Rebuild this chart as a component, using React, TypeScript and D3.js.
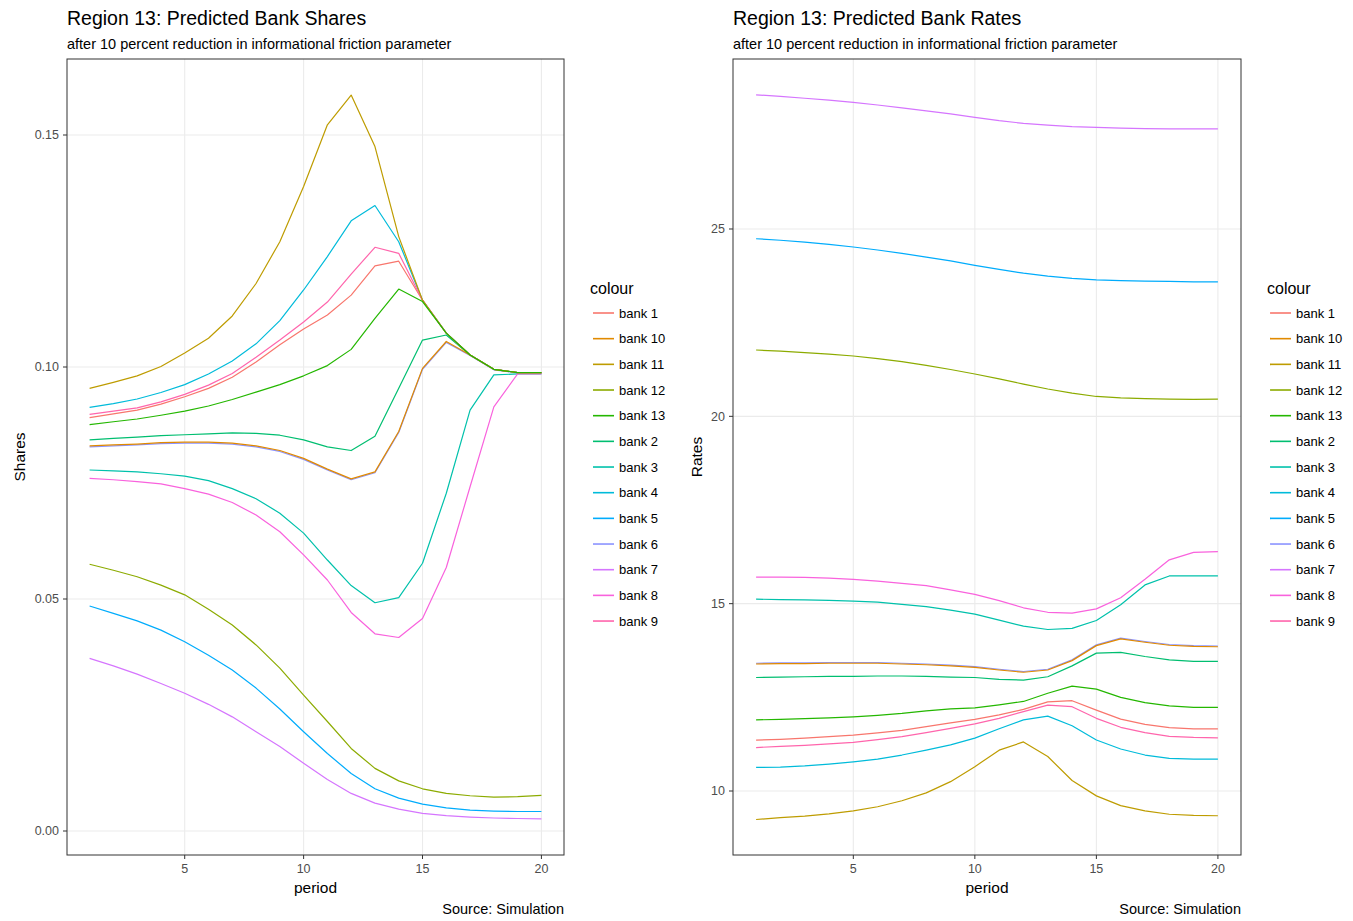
import React from "react";
import * as d3 from "d3";

const FONT = "'Liberation Sans', Arial, Helvetica, sans-serif";

const periods = d3.range(1, 21);
const bankNames = ["bank 1", "bank 10", "bank 11", "bank 12", "bank 13", "bank 2", "bank 3", "bank 4", "bank 5", "bank 6", "bank 7", "bank 8", "bank 9"];
const bankColors = ["#F8766D", "#E18A00", "#BE9C00", "#8CAB00", "#24B700", "#00BE70", "#00C1AB", "#00BBDA", "#00ACFC", "#8B93FF", "#D575FE", "#F962DD", "#FF65AC"];
// drawing order (layers added bank 1..13)
const drawOrder = ["bank 1", "bank 2", "bank 3", "bank 4", "bank 5", "bank 6", "bank 7", "bank 8", "bank 9", "bank 10", "bank 11", "bank 12", "bank 13"];

// ---- Shares ----
const shares1 = [0.0891, 0.0899, 0.0907, 0.0920, 0.0936, 0.0954, 0.0978, 0.1011, 0.1048, 0.1082, 0.1112, 0.1155, 0.1218, 0.1228, 0.1144, 0.1073, 0.1026, 0.0995, 0.0988, 0.0988];
const shares2 = [0.0843, 0.0846, 0.0849, 0.0852, 0.0854, 0.0856, 0.0858, 0.0857, 0.0853, 0.0843, 0.0828, 0.0820, 0.0851, 0.0954, 0.1058, 0.1069, 0.1026, 0.0995, 0.0988, 0.0988];
const shares3 = [0.0778, 0.0776, 0.0774, 0.0770, 0.0765, 0.0755, 0.0738, 0.0716, 0.0685, 0.0642, 0.0584, 0.0529, 0.0492, 0.0503, 0.0577, 0.0728, 0.0907, 0.0983, 0.0985, 0.0985];
const shares4 = [0.0913, 0.0921, 0.0931, 0.0945, 0.0962, 0.0985, 0.1013, 0.1050, 0.1100, 0.1166, 0.1238, 0.1315, 0.1348, 0.1270, 0.1144, 0.1073, 0.1026, 0.0995, 0.0988, 0.0988];
const shares5 = [0.0485, 0.0469, 0.0453, 0.0433, 0.0408, 0.0379, 0.0347, 0.0308, 0.0263, 0.0214, 0.0167, 0.0124, 0.0091, 0.0071, 0.0058, 0.0050, 0.0045, 0.0043, 0.0042, 0.0042];
const shares6 = [0.0828, 0.0830, 0.0832, 0.0835, 0.0836, 0.0836, 0.0834, 0.0828, 0.0818, 0.0801, 0.0778, 0.0757, 0.0772, 0.0859, 0.0995, 0.1053, 0.1025, 0.0994, 0.0987, 0.0987];
const shares7 = [0.0372, 0.0356, 0.0338, 0.0318, 0.0297, 0.0273, 0.0246, 0.0214, 0.0182, 0.0146, 0.0111, 0.0081, 0.0060, 0.0047, 0.0038, 0.0033, 0.0030, 0.0028, 0.0027, 0.0026];
const shares8 = [0.0760, 0.0757, 0.0753, 0.0748, 0.0738, 0.0726, 0.0708, 0.0681, 0.0645, 0.0595, 0.0541, 0.0471, 0.0425, 0.0417, 0.0458, 0.0568, 0.0742, 0.0914, 0.0985, 0.0985];
const shares9 = [0.0898, 0.0905, 0.0912, 0.0925, 0.0941, 0.0961, 0.0986, 0.1021, 0.1058, 0.1097, 0.1140, 0.1200, 0.1258, 0.1245, 0.1144, 0.1073, 0.1026, 0.0995, 0.0988, 0.0988];
const shares10 = [0.0830, 0.0832, 0.0834, 0.0837, 0.0838, 0.0838, 0.0836, 0.0830, 0.0820, 0.0803, 0.0780, 0.0759, 0.0774, 0.0861, 0.0997, 0.1055, 0.1026, 0.0995, 0.0988, 0.0988];
const shares11 = [0.0954, 0.0967, 0.0981, 0.1001, 0.1030, 0.1062, 0.1110, 0.1180, 0.1270, 0.1389, 0.1522, 0.1586, 0.1475, 0.1281, 0.1144, 0.1073, 0.1026, 0.0995, 0.0988, 0.0988];
const shares12 = [0.0575, 0.0562, 0.0548, 0.0530, 0.0509, 0.0478, 0.0444, 0.0401, 0.0351, 0.0293, 0.0236, 0.0178, 0.0135, 0.0108, 0.0091, 0.0081, 0.0076, 0.0073, 0.0074, 0.0077];
const shares13 = [0.0876, 0.0882, 0.0888, 0.0896, 0.0905, 0.0916, 0.0930, 0.0946, 0.0962, 0.0981, 0.1003, 0.1038, 0.1105, 0.1168, 0.1141, 0.1073, 0.1026, 0.0995, 0.0988, 0.0988];

// ---- Rates ----
const rates1 = [11.36, 11.38, 11.41, 11.45, 11.49, 11.55, 11.62, 11.72, 11.82, 11.91, 12.03, 12.18, 12.38, 12.41, 12.16, 11.92, 11.78, 11.69, 11.66, 11.66];
const rates2 = [13.03, 13.04, 13.05, 13.06, 13.06, 13.07, 13.07, 13.06, 13.04, 13.03, 12.98, 12.96, 13.05, 13.34, 13.68, 13.70, 13.59, 13.50, 13.46, 13.46];
const rates3 = [15.12, 15.11, 15.10, 15.09, 15.07, 15.04, 14.98, 14.92, 14.83, 14.72, 14.56, 14.40, 14.31, 14.34, 14.55, 14.97, 15.50, 15.74, 15.74, 15.74];
const rates4 = [10.63, 10.64, 10.67, 10.72, 10.78, 10.85, 10.96, 11.09, 11.23, 11.41, 11.66, 11.90, 12.00, 11.74, 11.36, 11.12, 10.96, 10.87, 10.85, 10.85];
const rates5 = [24.74, 24.70, 24.65, 24.59, 24.52, 24.44, 24.35, 24.25, 24.15, 24.03, 23.92, 23.82, 23.74, 23.68, 23.64, 23.62, 23.61, 23.60, 23.59, 23.59];
const rates6 = [13.41, 13.42, 13.42, 13.43, 13.43, 13.43, 13.41, 13.39, 13.36, 13.32, 13.25, 13.19, 13.25, 13.50, 13.90, 14.08, 13.99, 13.91, 13.88, 13.87];
const rates7 = [28.58, 28.54, 28.49, 28.44, 28.38, 28.31, 28.23, 28.15, 28.07, 27.98, 27.89, 27.82, 27.77, 27.73, 27.71, 27.69, 27.68, 27.67, 27.67, 27.67];
const rates8 = [15.71, 15.71, 15.70, 15.68, 15.65, 15.60, 15.54, 15.48, 15.37, 15.25, 15.08, 14.89, 14.77, 14.75, 14.86, 15.16, 15.65, 16.17, 16.37, 16.39];
const rates9 = [11.16, 11.19, 11.22, 11.26, 11.30, 11.37, 11.45, 11.56, 11.67, 11.79, 11.94, 12.12, 12.29, 12.25, 11.94, 11.70, 11.56, 11.46, 11.43, 11.42];
const rates10 = [13.39, 13.40, 13.40, 13.41, 13.41, 13.41, 13.39, 13.37, 13.34, 13.30, 13.23, 13.17, 13.23, 13.48, 13.88, 14.06, 13.97, 13.89, 13.86, 13.85];
const rates11 = [9.24, 9.29, 9.33, 9.39, 9.47, 9.58, 9.74, 9.95, 10.25, 10.65, 11.09, 11.31, 10.92, 10.28, 9.87, 9.61, 9.47, 9.38, 9.35, 9.34];
const rates12 = [21.77, 21.74, 21.70, 21.66, 21.61, 21.54, 21.46, 21.36, 21.25, 21.13, 21.00, 20.86, 20.73, 20.62, 20.53, 20.49, 20.47, 20.46, 20.45, 20.46];
const rates13 = [11.90, 11.91, 11.93, 11.95, 11.98, 12.02, 12.07, 12.14, 12.19, 12.22, 12.30, 12.39, 12.61, 12.80, 12.72, 12.50, 12.36, 12.27, 12.23, 12.23];

const xTicks = [5, 10, 15, 20];
const shareTicks = [0, 0.05, 0.1, 0.15];
const rateTicks = [10, 15, 20, 25];

const sharesData: Record<string, number[]> = {
  "bank 1": shares1, "bank 2": shares2, "bank 3": shares3, "bank 4": shares4, "bank 5": shares5,
  "bank 6": shares6, "bank 7": shares7, "bank 8": shares8, "bank 9": shares9, "bank 10": shares10,
  "bank 11": shares11, "bank 12": shares12, "bank 13": shares13,
};
const ratesData: Record<string, number[]> = {
  "bank 1": rates1, "bank 2": rates2, "bank 3": rates3, "bank 4": rates4, "bank 5": rates5,
  "bank 6": rates6, "bank 7": rates7, "bank 8": rates8, "bank 9": rates9, "bank 10": rates10,
  "bank 11": rates11, "bank 12": rates12, "bank 13": rates13,
};

const color = d3.scaleOrdinal<string, string>().domain(bankNames).range(bankColors);

type PanelProps = {
  x0: number; x1: number; y0: number; y1: number;
  yDomain: [number, number];
  yTicks: number[];
  yFmt: (v: number) => string;
  data: Record<string, number[]>;
  title: string; subtitle: string; ylabel: string; ylabelX: number; legendX: number;
};

function Panel(p: PanelProps) {
  const x = d3.scaleLinear().domain([0.05, 20.95]).range([p.x0, p.x1]);
  const y = d3.scaleLinear().domain(p.yDomain).range([p.y1, p.y0]);
  const line = d3.line<number>().x((_, i) => x(periods[i])).y((v) => y(v));
  const cx = (p.x0 + p.x1) / 2;
  const cy = (p.y0 + p.y1) / 2;
  return (
    <g>
      <text x={p.x0} y={25} fontSize={19.5} fill="#000">{p.title}</text>
      <text x={p.x0} y={49} fontSize={14.5} fill="#000">{p.subtitle}</text>
      <rect x={p.x0} y={p.y0} width={p.x1 - p.x0} height={p.y1 - p.y0} fill="#fff" />
      {xTicks.map((t) => (
        <line key={"gx" + t} x1={x(t)} x2={x(t)} y1={p.y0} y2={p.y1} stroke="#EBEBEB" strokeWidth={1.1} />
      ))}
      {p.yTicks.map((t) => (
        <line key={"gy" + t} x1={p.x0} x2={p.x1} y1={y(t)} y2={y(t)} stroke="#EBEBEB" strokeWidth={1.1} />
      ))}
      <g clipPath={undefined}>
        {drawOrder.map((name) => (
          <path key={name} d={line(p.data[name]) || ""} fill="none" stroke={color(name)} strokeWidth={1.2} strokeLinejoin="round" />
        ))}
      </g>
      <rect x={p.x0} y={p.y0} width={p.x1 - p.x0} height={p.y1 - p.y0} fill="none" stroke="#333333" strokeWidth={1} />
      {xTicks.map((t) => (
        <g key={"tx" + t}>
          <line x1={x(t)} x2={x(t)} y1={p.y1} y2={p.y1 + 4} stroke="#333333" strokeWidth={1} />
          <text x={x(t)} y={873} fontSize={12.5} fill="#4D4D4D" textAnchor="middle">{t}</text>
        </g>
      ))}
      {p.yTicks.map((t) => (
        <g key={"ty" + t}>
          <line x1={p.x0 - 4} x2={p.x0} y1={y(t)} y2={y(t)} stroke="#333333" strokeWidth={1} />
          <text x={p.x0 - 8} y={y(t)} dy="0.35em" fontSize={12.5} fill="#4D4D4D" textAnchor="end">{p.yFmt(t)}</text>
        </g>
      ))}
      <text x={cx} y={893} fontSize={15.5} fill="#000" textAnchor="middle">period</text>
      <text transform={`translate(${p.ylabelX},${cy}) rotate(-90)`} dy="0.35em" fontSize={15.5} fill="#000" textAnchor="middle">{p.ylabel}</text>
      <text x={p.x1} y={914} fontSize={14.5} fill="#000" textAnchor="end">Source: Simulation</text>
      <g>
        <text x={p.legendX} y={294} fontSize={16} fill="#000">colour</text>
        {bankNames.map((name, i) => {
          const ly = 313 + i * 25.67;
          return (
            <g key={"lg" + name}>
              <line x1={p.legendX + 3} x2={p.legendX + 24} y1={ly} y2={ly} stroke={color(name)} strokeWidth={1.6} />
              <text x={p.legendX + 29} y={ly} dy="0.35em" fontSize={13} fill="#000">{name}</text>
            </g>
          );
        })}
      </g>
    </g>
  );
}

export default function App() {
  return (
    <svg width={1353} height={921} style={{ position: "absolute", left: 0, top: 0, background: "#fff" }} fontFamily={FONT}>
      <rect x={0} y={0} width={1353} height={921} fill="#fff" />
      <Panel
        x0={67} x1={564} y0={59} y1={855}
        yDomain={[-0.00517, 0.16638]}
        yTicks={shareTicks}
        yFmt={(v) => d3.format(".2f")(v)}
        data={sharesData}
        title="Region 13: Predicted Bank Shares"
        subtitle="after 10 percent reduction in informational friction parameter"
        ylabel="Shares" ylabelX={20} legendX={590}
      />
      <Panel
        x0={733} x1={1241} y0={59} y1={855}
        yDomain={[8.292, 29.537]}
        yTicks={rateTicks}
        yFmt={(v) => String(v)}
        data={ratesData}
        title="Region 13: Predicted Bank Rates"
        subtitle="after 10 percent reduction in informational friction parameter"
        ylabel="Rates" ylabelX={697} legendX={1267}
      />
    </svg>
  );
}
